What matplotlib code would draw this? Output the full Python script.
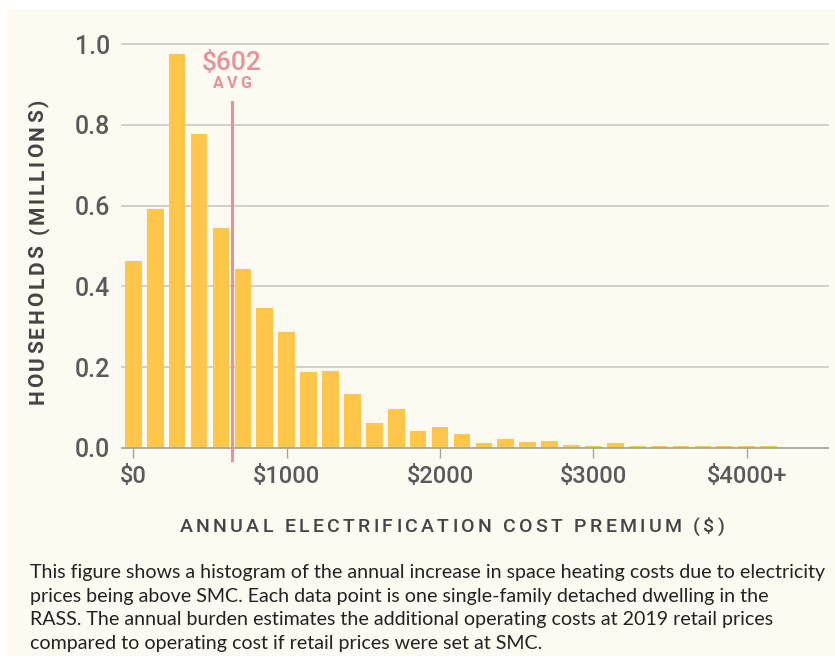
import matplotlib
matplotlib.use("Agg")
import matplotlib.pyplot as plt
import numpy as np

# ---- data ----
bin_width = 1000 / 7
households = [0.463, 0.591, 0.976, 0.778, 0.545, 0.443, 0.346, 0.286, 0.188, 0.191,
              0.133, 0.060, 0.096, 0.042, 0.051, 0.033, 0.011, 0.021, 0.014, 0.016,
              0.006, 0.004, 0.011, 0.004, 0.003, 0.003, 0.003, 0.003, 0.003, 0.005]
bin_centers = [i * bin_width for i in range(len(households))]
xtick_values = [0, 1000, 2000, 3000, 4000]
xtick_labels = ["$0", "$1000", "$2000", "$3000", "$4000+"]
ytick_values = [0.0, 0.2, 0.4, 0.6, 0.8, 1.0]
avg_position = 644
avg_label = "$602"
x_title = "ANNUAL ELECTRIFICATION COST PREMIUM ($)"
y_title = "HOUSEHOLDS (MILLIONS)"

caption = ("This figure shows a histogram of the annual increase in space heating costs due to electricity\n"
           "prices being above SMC. Each data point is one single-family detached dwelling in the\n"
           "RASS. The annual burden estimates the additional operating costs at 2019 retail prices\n"
           "compared to operating cost if retail prices were set at SMC.")

# ---- style ----
CREAM = "#FDFAF2"
BAR = "#FFC64A"
PINK = "#E8919B"
GRID = "#CFCCC6"
TICKC = "#5A5A5A"
LABELC = "#444444"
FONT = ["Roboto", "DejaVu Sans"]

W, H = 835, 656
fig = plt.figure(figsize=(W / 100, H / 100), dpi=100, facecolor="white")
renderer = fig.canvas.get_renderer()


def char_width(ch, **kw):
    if ch == " ":
        a = fig.text(0, 0, "n n", **kw)
        b = fig.text(0, 0, "nn", **kw)
        w = a.get_window_extent(renderer).width - b.get_window_extent(renderer).width
        a.remove(); b.remove()
        return w
    t = fig.text(0, 0, ch, **kw)
    w = t.get_window_extent(renderer).width
    t.remove()
    return w


def tracked_text(cx, cy, s, total_px, vertical=False, **kw):
    """Draw s centred at (cx, cy) in pixel coords (y from top) spread to total_px length."""
    widths = [char_width(ch, **kw) for ch in s]
    track = (total_px - sum(widths)) / (len(s) - 1)
    pos = -total_px / 2
    for ch, w in zip(s, widths):
        if vertical:
            fig.text(cx / W, 1 - (cy - pos) / H, ch, rotation=90, ha="left", va="center_baseline",
                     rotation_mode="anchor", **kw)
        else:
            fig.text((cx + pos) / W, 1 - cy / H, ch, ha="left", va="center_baseline", **kw)
        pos += w + track


# cream panel
fig.patches.append(plt.Rectangle((7 / W, 0), 1, 1 - 9 / H, transform=fig.transFigure,
                                 facecolor=CREAM, edgecolor="none", zorder=-10))

ax_l, ax_r, ax_t, ax_b = 121.7, 828, 44.3, 447.7
ax = fig.add_axes([ax_l / W, 1 - ax_b / H, (ax_r - ax_l) / W, (ax_b - ax_t) / H])
ax.set_facecolor("none")

ax.bar(bin_centers, households, width=bin_width * 0.76, color=BAR, zorder=2)

ax.set_xlim(-76, 4530)
ax.set_ylim(0, 1.0)

for v in ytick_values[1:]:
    ax.axhline(v, color=GRID, lw=1.3, zorder=1, clip_on=False)

for s in ["top", "right", "left"]:
    ax.spines[s].set_visible(False)
ax.spines["bottom"].set_color("#A5A5A5")
ax.spines["bottom"].set_linewidth(1.3)
ax.spines["bottom"].set_zorder(3)

ax.set_xticks(xtick_values)
ax.set_xticklabels(xtick_labels, fontfamily=FONT, fontsize=17, fontweight="medium", color=TICKC)
ax.tick_params(axis="x", length=7.5, width=1, color="#A5A5A5", pad=5)
ax.set_yticks(ytick_values)
ax.set_yticklabels([f"{v:.1f}" for v in ytick_values], fontfamily=FONT, fontsize=18,
                   fontweight="medium", color=TICKC)
ax.tick_params(axis="y", length=0, pad=8.5)

# average line
ax.plot([avg_position, avg_position], [-0.03, 0.858], color=PINK, lw=2.2, zorder=4, clip_on=False)
ax.text(avg_position, 1.0 - (62.5 - ax_t) / (ax_b - ax_t), avg_label, color=PINK, fontfamily=FONT,
        fontsize=19, fontweight="medium", ha="center", va="center", zorder=5, clip_on=False)
tracked_text(232, 82.5, "AVG", 38, color=PINK, fontfamily=FONT, fontsize=11.5, fontweight="bold")

# axis titles
tracked_text(452, 525, x_title, 545, color=LABELC, fontfamily=FONT, fontsize=14, fontweight="medium")
tracked_text(36, 252, y_title, 305, vertical=True, color=LABELC, fontfamily=FONT, fontsize=15,
             fontweight="bold")

# caption
fig.text(30 / W, 1 - 564 / H, caption, fontfamily=["Lato", "DejaVu Sans"], fontsize=14.1,
         color="#222222", ha="left", va="top", linespacing=1.47)

fig.savefig("out.png", dpi=100, facecolor="white")
